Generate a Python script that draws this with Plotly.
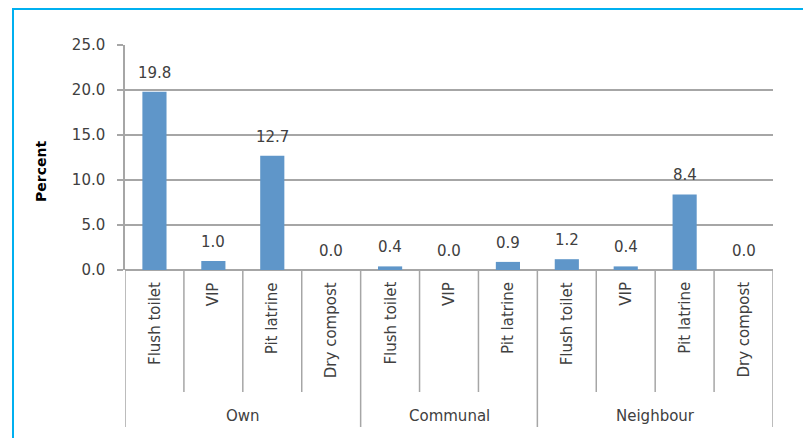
import plotly.graph_objects as go

groups = ["Own", "Communal", "Neighbour"]
group_items = [
    ["Flush toilet", "VIP", "Pit latrine", "Dry compost"],
    ["Flush toilet", "VIP", "Pit latrine"],
    ["Flush toilet", "VIP", "Pit latrine", "Dry compost"],
]
own_values = [19.8, 1.0, 12.7, 0.0]
communal_values = [0.4, 0.0, 0.9]
neighbour_values = [1.2, 0.4, 8.4, 0.0]
y_tick_values = [0, 5, 10, 15, 20, 25]
y_tick_labels = ["0.0", "5.0", "10.0", "15.0", "20.0", "25.0"]

values = own_values + communal_values + neighbour_values
labels = [c for items in group_items for c in items]
xs = list(range(len(values)))

# page has an 8px body margin; compensate
OFF = 8
W, H = 811, 438
PLOT_L, PLOT_R, PLOT_T, PLOT_B = 125, 773, 45, 270
L = PLOT_L - OFF
T = PLOT_T - OFF
R = W - (PLOT_R - OFF)
B = H - (PLOT_B - OFF)
PW = PLOT_R - PLOT_L
PH = PLOT_B - PLOT_T

def px_x(px):
    return (px - PLOT_L) / PW

def px_y(py):
    return (PLOT_B - py) / PH

FONT = "DejaVu Sans"
FS = 15
TXT = "#404040"
GRID = "#A6A6A6"
BAR = "#5F96C9"

fig = go.Figure()
fig.add_trace(go.Bar(
    x=xs, y=values, width=0.41, marker=dict(color=BAR, line=dict(width=0)),
    hoverinfo="skip",
))

annotations = []
shapes = []

# data labels
for x, v in zip(xs, values):
    annotations.append(dict(x=x, y=v, xref="x", yref="y", text=f"{v:.1f}",
                            showarrow=False, yanchor="middle", xanchor="center",
                            yshift=19,
                            font=dict(family=FONT, size=FS, color=TXT)))

# category labels
for x, lab in zip(xs, labels):
    annotations.append(dict(x=x, y=px_y(280), xref="x", yref="paper", text=lab,
                            showarrow=False, textangle=-90, yanchor="top",
                            xanchor="center",
                            font=dict(family=FONT, size=FS, color=TXT)))

# separators
inner_bottom = px_y(392)
group_bottom = px_y(427)
start = 0
group_edges = [-0.5]
for g, items in zip(groups, group_items):
    n = len(items)
    center = start + (n - 1) / 2
    annotations.append(dict(x=center, y=px_y(416), xref="x", yref="paper", text=g,
                            showarrow=False, yanchor="middle", xanchor="center",
                            font=dict(family=FONT, size=FS, color=TXT)))
    for k in range(1, n):
        xe = start + k - 0.5
        shapes.append(dict(type="line", xref="x", yref="paper", x0=xe, x1=xe,
                           y0=0, y1=inner_bottom, line=dict(color=GRID, width=1.5)))
    start += n
    group_edges.append(start - 0.5)
for xe in group_edges:
    shapes.append(dict(type="line", xref="x", yref="paper", x0=xe, x1=xe,
                       y0=0, y1=group_bottom, line=dict(color=GRID, width=1.5)))

# y axis title
annotations.append(dict(x=px_x(41), y=px_y(172), xref="paper", yref="paper",
                        text="<b>Percent</b>", showarrow=False, textangle=-90,
                        xanchor="center", yanchor="middle",
                        font=dict(family=FONT, size=14, color="#000000")))

# outer border
shapes.append(dict(type="rect", xref="paper", yref="paper",
                   x0=px_x(13), x1=px_x(840), y0=px_y(470), y1=px_y(9),
                   line=dict(color="#00B0F0", width=2), layer="below"))

fig.update_layout(
    width=W, height=H,
    margin=dict(l=L, r=R, t=T, b=B),
    paper_bgcolor="white", plot_bgcolor="white",
    showlegend=False,
    annotations=annotations,
    shapes=shapes,
    xaxis=dict(range=[-0.5, len(values) - 0.5], showticklabels=False,
               showgrid=False, zeroline=False, showline=False, ticks=""),
    yaxis=dict(range=[0, 25], tickvals=y_tick_values, ticktext=y_tick_labels,
               showgrid=True, gridcolor=GRID, gridwidth=1.5,
               zeroline=True, zerolinecolor=GRID, zerolinewidth=1.5,
               showline=True, linecolor=GRID, linewidth=1.5,
               ticks="outside", ticklen=6, tickcolor=GRID, tickwidth=1.5,
               ticklabelstandoff=9,
               tickfont=dict(family=FONT, size=FS, color=TXT)),
)

fig.write_html("out.html")
